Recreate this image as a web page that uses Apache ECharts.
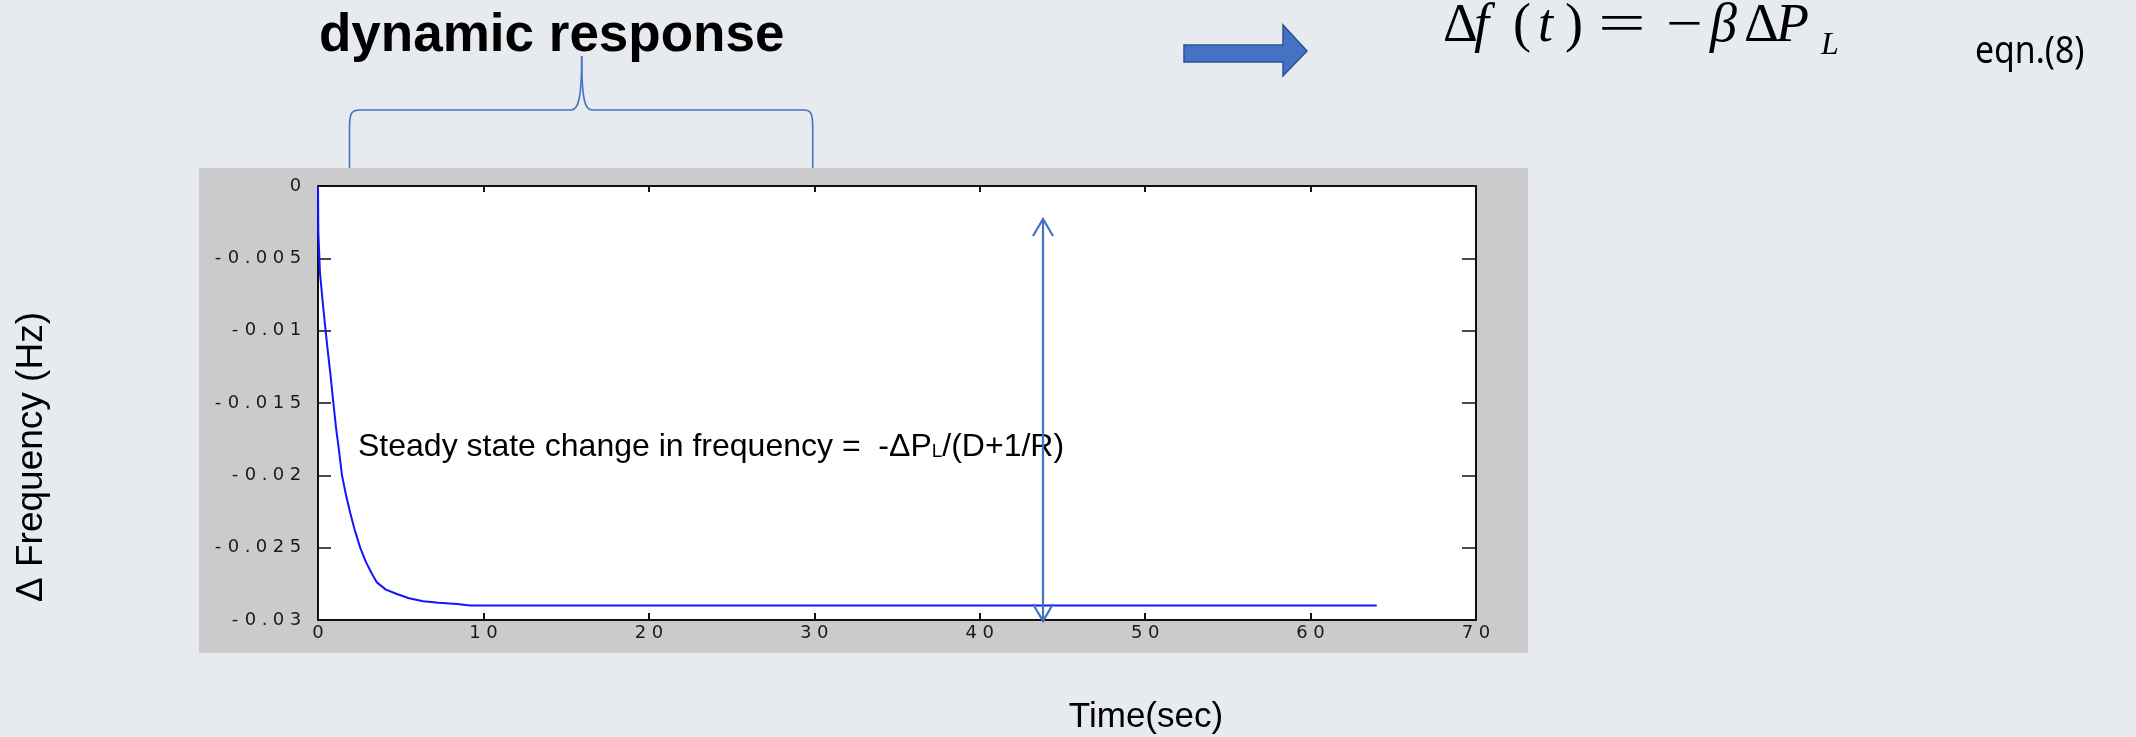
<!DOCTYPE html>
<html>
<head>
<meta charset="utf-8">
<script src="https://cdn.jsdelivr.net/npm/echarts@6/dist/echarts.min.js"></script>
<style>
html,body{margin:0;padding:0;background:#e7ebf0;}
#c{width:2136px;height:737px;}
</style>
</head>
<body>
<div id="c"></div>
<script>
// ---- data ----
const timeSec = [0, 0.02, 0.12, 0.3, 0.45, 0.6, 0.75, 0.93, 1.1, 1.25, 1.45, 1.7, 1.95, 2.2, 2.55, 2.9, 3.26, 3.56, 4.1, 4.77, 5.5, 6.36, 7.3, 8.4, 9.2, 64];
const deltaFreqHz = [0, -0.0032, -0.006, -0.0082, -0.0099, -0.0115, -0.013, -0.015, -0.0168, -0.0181, -0.02, -0.0214, -0.0226, -0.0237, -0.025, -0.026, -0.0268, -0.0274, -0.0279, -0.0282, -0.0285, -0.0287, -0.0288, -0.0289, -0.029, -0.029];
const xTicks = [0, 10, 20, 30, 40, 50, 60, 70];
const yTicks = [-0.03, -0.025, -0.02, -0.015, -0.01, -0.005, 0];

const titleText = 'dynamic response';
const annotationMain = 'Steady state change in frequency =  -ΔP';
const annotationSub = 'L';
const annotationTail = '/(D+1/R)';
const xTitle = 'Time(sec)';
const yTitle = 'Δ Frequency (Hz)';
const eqnLabel = 'eqn.(8)';

const seriesData = timeSec.map((t, i) => [t, deltaFreqHz[i]]);

const chart = echarts.init(document.getElementById('c'), null, {renderer: 'canvas'});

const AX = '#111';
const BLUE = '#4472C4';
const tickFont = '"DejaVu Sans", sans-serif';
const serif = '"Liberation Serif", "Times New Roman", serif';
const sans = '"Liberation Sans", Arial, sans-serif';

// wide MATLAB-style tick labels: each character in its own cell
const cellBase = {fontFamily: tickFont, fontSize: 18, color: '#1a1a1a', align: 'center'};
const labelRich = {
  d: Object.assign({width: 17}, cellBase),
  m: Object.assign({width: 14}, cellBase),
  p: Object.assign({width: 11}, cellBase)
};
function spread(s) {
  return s.split('').map(c => '{' + (c === '-' ? 'm' : (c === '.' ? 'p' : 'd')) + '|' + c + '}').join('');
}

function glyph(x, midY, text, font, extra) {
  return Object.assign({
    type: 'text', x: x, y: midY, z: 100,
    style: {text: text, font: font, fill: '#000', align: 'left', verticalAlign: 'middle'}
  }, extra || {});
}

const bracketStyle = {stroke: BLUE, lineWidth: 1.6, fill: null};
const FS = 54;
const fMid = 45 - 0.3375 * FS;
const fMain = FS + 'px ' + serif;
const fItal = 'italic ' + FS + 'px ' + serif;

const graphics = [
  // gray MATLAB figure panel
  {type: 'rect', x: 199, y: 168, z: -100, shape: {width: 1329, height: 485}, style: {fill: '#cbcbcb'}},
  // title
  glyph(319, 36, titleText, 'bold 53px ' + sans),
  // bracket
  {type: 'line', z: 100, shape: {x1: 349.5, y1: 168, x2: 349.5, y2: 128}, style: bracketStyle},
  {type: 'bezierCurve', z: 100, shape: {x1: 349.5, y1: 128, cpx1: 349.5, cpy1: 112, cpx2: 352, cpy2: 110, x2: 360, y2: 110}, style: bracketStyle},
  {type: 'line', z: 100, shape: {x1: 360, y1: 110, x2: 571, y2: 110}, style: bracketStyle},
  {type: 'bezierCurve', z: 100, shape: {x1: 571, y1: 110, cpx1: 578, cpy1: 110, cpx2: 581.7, cpy2: 100, x2: 581.7, y2: 56}, style: bracketStyle},
  {type: 'bezierCurve', z: 100, shape: {x1: 581.7, y1: 56, cpx1: 581.7, cpy1: 100, cpx2: 585, cpy2: 110, x2: 592, y2: 110}, style: bracketStyle},
  {type: 'line', z: 100, shape: {x1: 592, y1: 110, x2: 804, y2: 110}, style: bracketStyle},
  {type: 'bezierCurve', z: 100, shape: {x1: 804, y1: 110, cpx1: 811, cpy1: 110, cpx2: 812.7, cpy2: 113, x2: 812.7, y2: 128}, style: bracketStyle},
  {type: 'line', z: 100, shape: {x1: 812.7, y1: 128, x2: 812.7, y2: 168}, style: bracketStyle},
  // block arrow
  {type: 'polygon', z: 100, shape: {points: [[1184, 45], [1283, 45], [1283, 25], [1307, 51], [1283, 76], [1283, 62], [1184, 62]]},
    style: {fill: BLUE, stroke: '#2F528F', lineWidth: 1.5}},
  // formula  Δf(t) = −βΔP_L
  glyph(1443, fMid, 'Δ', fMain),
  glyph(1474, fMid, 'f', fItal),
  glyph(1513, fMid, '(', fMain),
  glyph(1538, fMid, 't', fItal),
  glyph(1565, fMid, ')', fMain),
  glyph(1598, fMid, '=', fMain, {scaleX: 1.57}),
  glyph(1666, fMid, '−', fMain, {scaleX: 1.2}),
  glyph(1710, fMid, 'β', fItal),
  glyph(1744, fMid, 'Δ', fMain),
  glyph(1776, fMid, 'P', fItal),
  glyph(1821, 56 - 0.3375 * 32, 'L', 'italic 32px ' + serif),
  // eqn label
  glyph(1975, 52, eqnLabel, '38px "Noto Sans", sans-serif', {scaleX: 0.89}),
  // annotation text
  {type: 'text', x: 358, y: 445, z: 90,
    style: {
      text: '{a|' + annotationMain + '}{b|' + annotationSub + '}{a|' + annotationTail + '}',
      align: 'left', verticalAlign: 'middle',
      rich: {
        a: {font: '32px ' + sans, fill: '#000', lineHeight: 36, verticalAlign: 'bottom'},
        b: {font: '19px ' + sans, fill: '#000', lineHeight: 36, verticalAlign: 'bottom', padding: [0, 0, 2, 0]}
      }
    }},
  // double-headed arrow
  {type: 'line', z: 110, shape: {x1: 1043, y1: 219, x2: 1043, y2: 621}, style: {stroke: BLUE, lineWidth: 2.2}},
  {type: 'polyline', z: 110, shape: {points: [[1033, 236], [1043, 219], [1053, 236]]}, style: {stroke: BLUE, lineWidth: 2.2, fill: null}},
  {type: 'polyline', z: 110, shape: {points: [[1033, 604], [1043, 621], [1053, 604]]}, style: {stroke: BLUE, lineWidth: 2.2, fill: null}},
  // axis titles
  {type: 'text', x: 1146, y: 717, z: 100,
    style: {text: xTitle, font: '35px ' + sans, fill: '#000', align: 'center', verticalAlign: 'middle'}},
  {type: 'text', x: 32, y: 457, z: 100, rotation: Math.PI / 2,
    style: {text: yTitle, font: '37px ' + sans, fill: '#000', align: 'center', verticalAlign: 'middle'}}
];

const xMin = xTicks[0], xMax = xTicks[xTicks.length - 1], xStep = xTicks[1] - xTicks[0];
const yMin = yTicks[0], yMax = yTicks[yTicks.length - 1], yStep = yTicks[1] - yTicks[0];

const option = {
  backgroundColor: '#e7ebf0',
  animation: false,
  grid: {left: 318, top: 186, right: 660, bottom: 117, show: true, backgroundColor: '#ffffff', borderWidth: 0},
  xAxis: [
    {type: 'value', min: xMin, max: xMax, interval: xStep, position: 'bottom',
      axisLine: {show: true, onZero: false, lineStyle: {color: AX, width: 2}},
      axisTick: {show: true, inside: true, length: 7, lineStyle: {color: AX, width: 2}},
      axisLabel: {show: true, margin: 4, fontFamily: tickFont, fontSize: 18, color: '#1a1a1a',
        formatter: v => spread(String(v)), rich: labelRich},
      splitLine: {show: false}},
    {type: 'value', min: xMin, max: xMax, interval: xStep, position: 'top',
      axisLine: {show: true, onZero: false, lineStyle: {color: AX, width: 2}},
      axisTick: {show: true, inside: true, length: 6, lineStyle: {color: AX, width: 2}},
      axisLabel: {show: false}, splitLine: {show: false}}
  ],
  yAxis: [
    {type: 'value', min: yMin, max: yMax, interval: yStep, position: 'left',
      axisLine: {show: true, onZero: false, lineStyle: {color: AX, width: 2}},
      axisTick: {show: true, inside: true, length: 13, lineStyle: {color: AX, width: 1.5}},
      axisLabel: {show: true, margin: 14, fontFamily: tickFont, fontSize: 18, color: '#1a1a1a',
        formatter: v => spread(String(+Number(v).toFixed(4))), rich: labelRich},
      splitLine: {show: false}},
    {type: 'value', min: yMin, max: yMax, interval: yStep, position: 'right',
      axisLine: {show: true, onZero: false, lineStyle: {color: AX, width: 2}},
      axisTick: {show: true, inside: true, length: 14, lineStyle: {color: AX, width: 1.5}},
      axisLabel: {show: false}, splitLine: {show: false}}
  ],
  series: [{
    type: 'line', xAxisIndex: 0, yAxisIndex: 0, data: seriesData,
    showSymbol: false, symbol: 'none', smooth: false,
    lineStyle: {color: '#1414ff', width: 2}, z: 5
  }],
  graphic: {elements: graphics}
};

chart.setOption(option);
</script>
</body>
</html>
